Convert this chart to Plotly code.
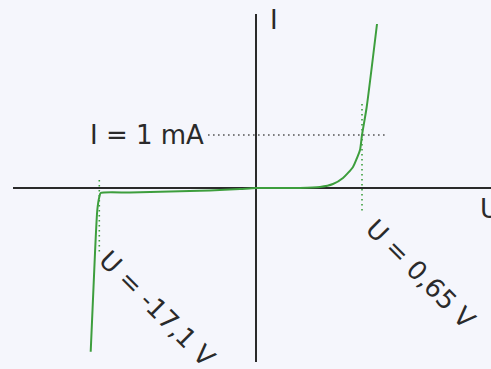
import plotly.graph_objects as go

# Schematic diode I-U characteristic (units are schematic plot units; origin at axis crossing)
u_reverse = [-165.3, -161, -158.7, -156.7, -155.3, -126, -86, -46, -16, 0]
i_reverse = [-163.7, -65, -22, -9, -5, -4.5, -3.5, -2.5, -1, 0]
u_forward = [0, 24, 44, 64, 77, 87, 97, 101, 104, 106, 110.7, 121]
i_forward = [0, 0, 0, 1, 4, 10, 21, 30, 38, 53, 81, 164]

# Reference markers
i_1mA = 53
i_1mA_span = [-48, 132]
u_fwd_mark = 106
u_fwd_span = [84, -24]
u_brk_mark = -156.7
u_brk_span = [8, -64]

labels = ["I = 1 mA", "U = 0,65 V", "U = -17,1 V"]

green = "#3d9e3d"
ink = "#2a2a2a"
bg = "#f5f6fc"
font = dict(family="DejaVu Sans", size=26, color=ink)

fig = go.Figure()

u_all = u_reverse + u_forward[1:]
i_all = i_reverse + i_forward[1:]
fig.add_trace(go.Scatter(x=u_all, y=i_all, mode="lines",
                         line=dict(color=green, width=2, shape="spline", smoothing=0.6),
                         hoverinfo="skip"))

fig.add_trace(go.Scatter(x=i_1mA_span, y=[i_1mA, i_1mA], mode="lines",
                         line=dict(color="#555555", width=1.6, dash="1.6px,3.4px"),
                         hoverinfo="skip"))
fig.add_trace(go.Scatter(x=[u_fwd_mark, u_fwd_mark], y=u_fwd_span, mode="lines",
                         line=dict(color=green, width=1.6, dash="1.6px,3.4px"),
                         hoverinfo="skip"))
fig.add_trace(go.Scatter(x=[u_brk_mark, u_brk_mark], y=u_brk_span, mode="lines",
                         line=dict(color=green, width=1.6, dash="1.6px,3.4px"),
                         hoverinfo="skip"))

annotations = [
    dict(x=12, y=168, text="I", xanchor="left", yanchor="middle", showarrow=False, font=font),
    dict(x=222, y=-21, text="U", xanchor="left", yanchor="middle", showarrow=False, font=font),
    dict(x=-50, y=i_1mA, text=labels[0], xanchor="right", yanchor="middle", showarrow=False, font=font),
    dict(x=164.5, y=-86, text=labels[1], textangle=45, xanchor="center", yanchor="middle",
         showarrow=False, font=font),
    dict(x=-98.5, y=-120.5, text=labels[2], textangle=45, xanchor="center", yanchor="middle",
         showarrow=False, font=font),
]

axis_common = dict(showgrid=False, showticklabels=False, ticks="", showline=False,
                   zeroline=True, zerolinecolor=ink, zerolinewidth=2, fixedrange=True)

fig.update_layout(
    width=491, height=369,
    margin=dict(l=13, r=0, t=14, b=7),
    paper_bgcolor=bg, plot_bgcolor=bg,
    showlegend=False,
    xaxis=dict(range=[-243, 235], **axis_common),
    yaxis=dict(range=[-174, 174], **axis_common),
    annotations=annotations,
)

fig.write_html("out.html", config={"displayModeBar": False},
               post_script="document.body.style.margin='0';document.body.style.overflow='hidden';")
